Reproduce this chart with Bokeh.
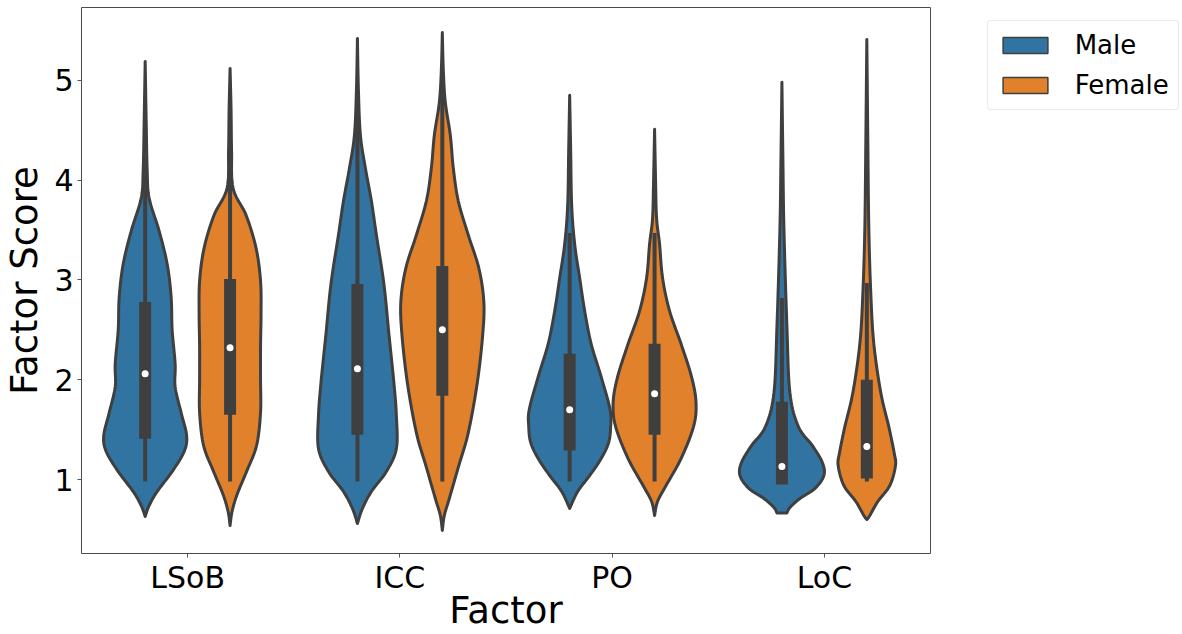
import numpy as np
from bokeh.plotting import figure
from bokeh.layouts import row
from bokeh.models import Range1d, FixedTicker, Legend, LegendItem
from bokeh.embed import file_html
from bokeh.resources import INLINE

factors = ["LSoB", "ICC", "PO", "LoC"]
genders = ["Male", "Female"]
colors = ["#3274a1", "#e1812c"]
gray = "#3f3f3f"

# Violin profiles: score levels and kernel-density (relative width, 42.5 = widest)
lsob_male_y = [0.63, 0.74, 0.88, 1.08, 1.28, 1.44, 1.67, 1.93, 2.16, 2.50, 2.83, 3.16, 3.49, 3.82, 4.10, 4.60, 5.19]
lsob_male_d = [0, 4, 12, 27, 39, 41.5, 36, 30, 30, 27, 26, 22, 14, 4, 2, 1, 0]
lsob_female_y = [0.54, 0.68, 0.85, 1.08, 1.34, 1.67, 2.00, 2.33, 2.66, 2.99, 3.32, 3.65, 3.92, 4.30, 4.70, 5.12]
lsob_female_d = [0, 2, 7, 16.5, 26.5, 30.5, 30.5, 30.5, 31, 30.5, 26, 16, 3, 1.5, 1, 0]
icc_male_y = [0.56, 0.71, 0.88, 1.08, 1.31, 1.64, 1.97, 2.46, 2.96, 3.45, 3.79, 4.12, 4.45, 4.90, 5.42]
icc_male_d = [0, 5, 14, 29, 39, 39, 36.5, 31.5, 26.5, 19, 14, 8, 3, 1, 0]
icc_female_y = [0.49, 0.64, 0.81, 1.14, 1.47, 1.97, 2.46, 2.79, 3.12, 3.45, 3.79, 4.12, 4.45, 4.78, 5.10, 5.48]
icc_female_d = [0, 2, 7, 16.5, 26, 35, 40.5, 41.5, 36.5, 26, 16, 11, 8, 3, 1, 0]
po_male_y = [0.71, 0.88, 1.04, 1.21, 1.37, 1.53, 1.70, 2.03, 2.36, 2.69, 3.02, 3.36, 3.75, 4.30, 4.85]
po_male_d = [0, 8, 20, 31.5, 39, 41, 40.5, 31.5, 21.5, 15, 10, 5, 2, 1, 0]
po_female_y = [0.64, 0.78, 0.94, 1.21, 1.53, 1.77, 2.03, 2.36, 2.69, 3.02, 3.36, 3.62, 4.00, 4.51]
po_female_d = [0, 3, 11.5, 26.5, 39, 41.5, 37, 26.5, 15, 8, 5, 2, 1, 0]
loc_male_y = [0.665, 0.72, 0.81, 0.91, 1.04, 1.17, 1.34, 1.53, 1.87, 2.53, 3.52, 4.20, 4.98]
loc_male_d = [5, 8, 18, 33, 42, 40.5, 30.5, 16.5, 8, 5, 2, 1, 0]
loc_female_y = [0.60, 0.64, 0.78, 0.94, 1.14, 1.27, 1.53, 1.87, 2.36, 2.86, 3.52, 4.40, 5.41]
loc_female_d = [0, 3, 11, 23, 28.7, 27.3, 22, 14, 7, 4, 2, 1, 0]

profiles_male = [(lsob_male_y, lsob_male_d), (icc_male_y, icc_male_d),
                 (po_male_y, po_male_d), (loc_male_y, loc_male_d)]
profiles_female = [(lsob_female_y, lsob_female_d), (icc_female_y, icc_female_d),
                   (po_female_y, po_female_d), (loc_female_y, loc_female_d)]

# Inner box statistics per factor
male_q1 = [1.47, 1.51, 1.35, 1.01]
male_median = [2.06, 2.11, 1.70, 1.13]
male_q3 = [2.72, 2.90, 2.20, 1.72]
male_whisker_lo = [1.0, 1.0, 1.0, 1.0]
male_whisker_hi = [4.2, 4.8, 3.45, 2.80]
female_q1 = [1.71, 1.90, 1.51, 1.07]
female_median = [2.32, 2.50, 1.86, 1.33]
female_q3 = [2.95, 3.08, 2.30, 1.94]
female_whisker_lo = [1.0, 1.0, 1.0, 1.0]
female_whisker_hi = [4.3, 5.0, 3.45, 2.95]

DMAX = 42.5
HALF = 0.2
OFFS = [-0.2, 0.2]


def smooth(ys, ds, n=10):
    P = np.column_stack([np.asarray(ds, float), np.asarray(ys, float)])
    P = np.vstack([P[0], P, P[-1]])
    out = []
    t = np.linspace(0, 1, n, endpoint=False)[:, None]
    for i in range(1, len(P) - 2):
        p0, p1, p2, p3 = P[i - 1], P[i], P[i + 1], P[i + 2]
        pts = 0.5 * ((2 * p1) + (-p0 + p2) * t + (2 * p0 - 5 * p1 + 4 * p2 - p3) * t ** 2
                     + (-p0 + 3 * p1 - 3 * p2 + p3) * t ** 3)
        out.append(pts)
    out.append(P[-2][None, :])
    arr = np.vstack(out)
    return arr[:, 1], np.clip(arr[:, 0], 0, None)


def violin_polys(profiles, off):
    xs, ys = [], []
    for i, (yv, dv) in enumerate(profiles):
        sy, sd = smooth(yv, dv)
        w = sd / DMAX * HALF
        cx = i + off
        xs.append(list(cx + w) + list((cx - w)[::-1]))
        ys.append(list(sy) + list(sy[::-1]))
    return xs, ys


W_MAIN = 960
p = figure(width=W_MAIN, height=634, output_backend="svg", toolbar_location=None,
           x_range=Range1d(-0.5, 3.5), y_range=Range1d(0.259, 5.73),
           min_border_left=81, min_border_right=W_MAIN - 930, min_border_top=7, min_border_bottom=76)
p.background_fill_color = "white"
p.border_fill_color = "white"
p.grid.visible = False
p.outline_line_color = "#4a4a4a"
p.outline_line_width = 1

stats = [(male_q1, male_median, male_q3, male_whisker_lo, male_whisker_hi),
         (female_q1, female_median, female_q3, female_whisker_lo, female_whisker_hi)]
for g, (profs, col, off) in enumerate(zip([profiles_male, profiles_female], colors, OFFS)):
    xs, ys = violin_polys(profs, off)
    p.patches(xs=xs, ys=ys, fill_color=col, line_color=gray, line_width=3, line_join="round")

for g, off in enumerate(OFFS):
    q1, med, q3, lo, hi = stats[g]
    cx = [i + off for i in range(len(factors))]
    p.segment(x0=cx, y0=lo, x1=cx, y1=hi, line_color=gray, line_width=4, line_cap="square")
    p.segment(x0=cx, y0=q1, x1=cx, y1=q3, line_color=gray, line_width=12, line_cap="square")
    p.scatter(x=cx, y=med, size=7, fill_color="white", line_color=None)

p.xaxis.ticker = FixedTicker(ticks=list(range(len(factors))))
p.xaxis.major_label_overrides = {i: f for i, f in enumerate(factors)}
p.yaxis.ticker = FixedTicker(ticks=[1, 2, 3, 4, 5])
for ax in (p.xaxis[0], p.yaxis[0]):
    ax.axis_line_color = None
    ax.major_tick_in = 0
    ax.major_tick_out = 4
    ax.major_tick_line_color = "#555555"
    ax.minor_tick_line_color = None
    ax.major_label_text_font = "DejaVu Sans"
    ax.major_label_text_font_size = "30px"
    ax.major_label_text_color = "black"
    ax.axis_label_text_font = "DejaVu Sans"
    ax.axis_label_text_font_size = "37px"
    ax.axis_label_text_font_style = "normal"
    ax.axis_label_text_color = "black"
p.xaxis.major_label_standoff = 2
p.yaxis.major_label_standoff = 4
p.yaxis.axis_label = "Factor Score"
p.yaxis.axis_label_standoff = 5
p.xaxis.axis_label = "Factor"
p.xaxis.axis_label_standoff = -9

# Legend panel (separate figure to the right of the plot)
W_LEG = 1182 - W_MAIN
q = figure(width=W_LEG, height=634, output_backend="svg", toolbar_location=None,
           x_range=Range1d(0, 1), y_range=Range1d(0, 1),
           x_axis_location=None, y_axis_location=None, min_border=0)
q.grid.visible = False
q.outline_line_color = None
q.background_fill_color = "white"
q.border_fill_color = "white"
dummies = []
for col in colors:
    dummies.append(q.patches(xs=[[5, 6, 6, 5]], ys=[[5, 5, 6, 6]], fill_color=col,
                             line_color=gray, line_width=1.5))
legend = Legend(items=[LegendItem(label=genders[i], renderers=[dummies[i]]) for i in range(2)],
                location=(986.7 - W_MAIN, 443))
legend.label_text_font = "DejaVu Sans"
legend.label_text_font_size = "26px"
legend.label_text_color = "black"
legend.glyph_width = 56
legend.glyph_height = 20
legend.label_standoff = 22
legend.padding = 9
legend.spacing = 10
legend.margin = 0
legend.border_line_color = "#d6d6d6"
legend.border_line_width = 1
legend.background_fill_alpha = 1
try:
    legend.border_radius = 4
except Exception:
    pass
q.add_layout(legend)

open("out.html", "w").write(file_html(row(p, q), INLINE))
